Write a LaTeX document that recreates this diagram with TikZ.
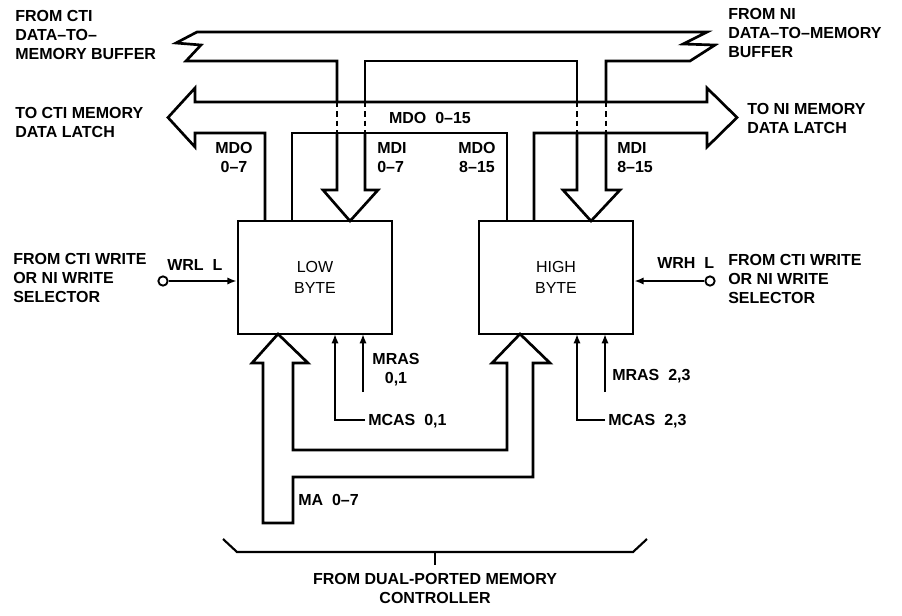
\documentclass[tikz,border=0pt]{standalone}
\usepackage{fontspec}
\setmainfont{Liberation Sans}
\usetikzlibrary{arrows.meta}
\begin{document}
\begin{tikzpicture}[x=0.75pt,y=-0.75pt,
  bus/.style={line width=2pt, line join=miter},
  lbl/.style={font=\fontsize{12}{14.4}\selectfont\bfseries, inner sep=0pt, align=left, anchor=north west},
  clbl/.style={lbl, align=center, anchor=north},
  boxtxt/.style={font=\fontsize{12}{16}\selectfont, align=center},
  membox/.style={draw, line width=2pt, minimum width=115.5pt, minimum height=84.75pt, inner sep=0pt, boxtxt},
  sig/.style={line width=1.6pt, -{Latex[length=7pt,width=5.5pt]}},
  dsh/.style={line width=2pt, dash pattern=on 4pt off 3pt},
  port/.style={circle, draw, line width=1.4pt, minimum size=7pt, inner sep=0pt, fill=white}]
\useasboundingbox (0,0) rectangle (902,615);

% memory boxes
\node[membox] (low) at (315,277.5) {LOW\\BYTE};
\node[membox] (high) at (556,277.5) {HIGH\\BYTE};

% top input bus (from data-to-memory buffers)
\draw[bus] (337,102) -- (337,61) -- (186,61) -- (201,45) -- (176,43) -- (197,32)
  -- (707,32) -- (683,44) -- (715,45) -- (690,61) -- (606,61) -- (606,102);
\draw[bus] (365,102) -- (365,61) -- (577,61) -- (577,102);
\draw[dsh] (337,102) -- (337,133);
\draw[dsh] (365,102) -- (365,133);
\draw[dsh] (577,102) -- (577,133);
\draw[dsh] (606,102) -- (606,133);
\draw[bus] (337,132) -- (337,190) -- (323,190) -- (350,221) -- (378,190) -- (365,190) -- (365,132);
\draw[bus] (577,132) -- (577,190) -- (563,190) -- (591,221) -- (620,190) -- (606,190) -- (606,132);

% MDO 0-15 bus (double arrow)
\draw[bus] (265,221) -- (265,133) -- (195,133) -- (195,147) -- (168,117.5) -- (195,88) -- (195,102)
  -- (707,102) -- (707,88) -- (737,117.5) -- (707,147) -- (707,133) -- (534,133) -- (534,221);
\draw[bus] (292,221) -- (292,133) -- (507,133) -- (507,221);

% MA 0-7 bus
\draw[bus] (263,363) -- (252,363) -- (278,334) -- (308,363) -- (293,363) -- (293,450) -- (507,450)
  -- (507,363) -- (492,363) -- (520,334) -- (550,363) -- (533,363) -- (533,477) -- (293,477)
  -- (293,523) -- (263,523) -- cycle;

% MRAS / MCAS
\coordinate (mcasl) at (365,420);
\coordinate (mrasl) at (363,392);
\coordinate (mcash) at (605,420);
\coordinate (mrash) at (605,392);
\draw[sig] (mcasl) -- (335,420) -- (335,334);
\draw[sig] (mrasl) -- (363,334);
\draw[sig] (mcash) -- (577,420) -- (577,334);
\draw[sig] (mrash) -- (605,334);

% write selects
\node[port] (wrlc) at (163,281) {};
\node[port] (wrhc) at (710,281) {};
\draw[sig] (wrlc) -- (low.west |- wrlc);
\draw[sig] (wrhc) -- (high.east |- wrhc);

% brace
\draw[line width=1.6pt] (223,539) -- (237,552) -- (633,552) -- (647,539);
\draw[line width=1.6pt] (435,552) -- (435,565);

% labels
\node[lbl] (l1) at (15,10) {FROM CTI\\DATA–TO–\\MEMORY BUFFER};
\node[lbl] (l2) at (15,107) {TO CTI MEMORY\\DATA LATCH};
\node[lbl] (l3) at (13,253) {FROM CTI WRITE\\OR NI WRITE\\SELECTOR};
\node[lbl] (r1) at (728,8) {FROM NI\\DATA–TO–MEMORY\\BUFFER};
\node[lbl] (r2) at (747,103) {TO NI MEMORY\\DATA LATCH};
\node[lbl] (r3) at (728,254) {FROM CTI WRITE\\OR NI WRITE\\SELECTOR};
\node[lbl] (wrl) at (167,259) {WRL\ \ L};
\node[lbl] (wrh) at (657,257) {WRH\ \ L};
\node[clbl] (mdo07) at (234,142) {MDO\\0–7};
\node[lbl] (mdi07) at (377,142) {MDI\\0–7};
\node[clbl] (mdo815) at (477,142) {MDO\\8–15};
\node[lbl] (mdi815) at (617,142) {MDI\\8–15};
\node[lbl, anchor=north] (mdo015) at (430,112) {MDO\ \ 0–15};
\node[clbl] (mras01) at (396,353) {MRAS\\0,1};
\node[lbl] (mcas01) at (368,414) {MCAS\ \ 0,1};
\node[lbl] (mras23) at (612,369) {MRAS\ \ 2,3};
\node[lbl] (mcas23) at (608,414) {MCAS\ \ 2,3};
\node[lbl] (ma) at (298,494) {MA\ \ 0–7};
\node[clbl] (dpmc) at (435,573) {FROM DUAL-PORTED MEMORY\\CONTROLLER};
\end{tikzpicture}
\end{document}
